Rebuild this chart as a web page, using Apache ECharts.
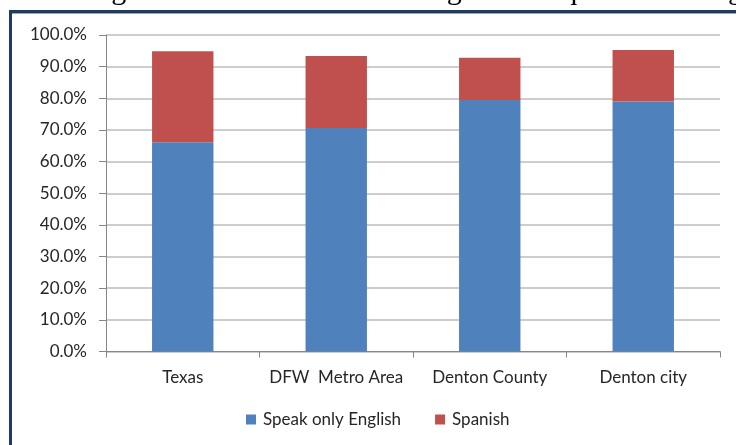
<!DOCTYPE html>
<html>
<head>
<meta charset="utf-8">
<script src="https://cdn.jsdelivr.net/npm/echarts@6/dist/echarts.min.js"></script>
<style>
  html, body { margin: 0; padding: 0; background: #fff; }
  #chart { width: 736px; height: 445px; }
</style>
</head>
<body>
<div id="chart"></div>
<script>
// data
const categories = ['Texas', 'DFW  Metro Area', 'Denton County', 'Denton city'];
const englishOnly = [66.1, 70.6, 79.5, 79.0];
const spanish = [28.8, 22.8, 13.3, 16.3];
const yTicks = [0, 10, 20, 30, 40, 50, 60, 70, 80, 90, 100];

// clipped line of text above the chart (from the document)
const headerWords = ['continuing', 'federal', 'and', 'state', 'changes', 'to', 'required', 'testing'];
const headerX = [-2, 155, 248, 315, 390, 493, 539, 663];

const labelFont = 'Lato, "Open Sans", sans-serif';

var chartDom = document.getElementById('chart');
var myChart = echarts.init(chartDom);
var option;

let headerGraphics = headerWords.map(function (w, i) {
  return {
    type: 'text',
    left: headerX[i],
    top: -24,
    style: {
      text: w,
      font: '30px "Liberation Serif", "DejaVu Serif", serif',
      fill: '#000'
    },
    z: 1
  }
})

option = {
  backgroundColor: '#fff',
  animation: false,
  grid: {
    left: 106,
    right: 16,
    top: 35,
    bottom: 93.5,
    containLabel: false
  },
  legend: {
    top: 411,
    left: 246,
    padding: 0,
    itemWidth: 10,
    itemHeight: 10,
    itemGap: 34,
    icon: 'rect',
    textStyle: {
      fontFamily: labelFont,
      fontSize: 17,
      color: '#262626',
      padding: [0, 0, 0, 2]
    },
    data: ['Speak only English', 'Spanish']
  },
  xAxis: {
    type: 'category',
    data: categories,
    axisLine: { lineStyle: { color: '#868686', width: 1 } },
    axisTick: { show: true, interval: 0, length: 6, lineStyle: { color: '#868686' } },
    axisLabel: {
      interval: 0,
      margin: 18,
      fontFamily: labelFont,
      fontSize: 17,
      color: '#262626'
    }
  },
  yAxis: {
    type: 'value',
    min: 0,
    max: 100,
    interval: 10,
    axisLine: { show: true, lineStyle: { color: '#868686', width: 1 } },
    axisTick: { show: true, length: 7, lineStyle: { color: '#868686' } },
    splitLine: { lineStyle: { color: '#BDBDBD', width: 1.5 } },
    axisLabel: {
      margin: 19,
      fontFamily: labelFont,
      fontSize: 17,
      color: '#262626',
      formatter: function (v) {
        return yTicks.indexOf(v) >= 0 ? v.toFixed(1) + '%' : ''
      }
    }
  },
  series: [
    {
      name: 'Speak only English',
      type: 'bar',
      stack: 'lang',
      barWidth: '40%',
      data: englishOnly,
      itemStyle: { color: '#4F81BD' }
    },
    {
      name: 'Spanish',
      type: 'bar',
      stack: 'lang',
      barWidth: '40%',
      data: spanish,
      itemStyle: { color: '#C0504D' }
    }
  ],
  graphic: headerGraphics.concat([
    // white cover under the header so text is cut at the frame
    {
      type: 'rect',
      shape: { x: 0, y: 10, width: 736, height: 435 },
      style: { fill: '#fff' },
      z: 0,
      silent: true
    },
    {
      type: 'line',
      shape: { x1: 9, y1: 11.5, x2: 736, y2: 11.5 },
      style: { stroke: '#1F3A64', lineWidth: 3 },
      z: 2
    },
    {
      type: 'line',
      shape: { x1: 12, y1: 13.5, x2: 736, y2: 13.5 },
      style: { stroke: '#9AA3B0', lineWidth: 1 },
      z: 2
    },
    {
      type: 'line',
      shape: { x1: 10.5, y1: 10, x2: 10.5, y2: 445 },
      style: { stroke: '#1F3A64', lineWidth: 3 },
      z: 2
    }
  ])
};
option && myChart.setOption(option);
</script>
</body>
</html>
